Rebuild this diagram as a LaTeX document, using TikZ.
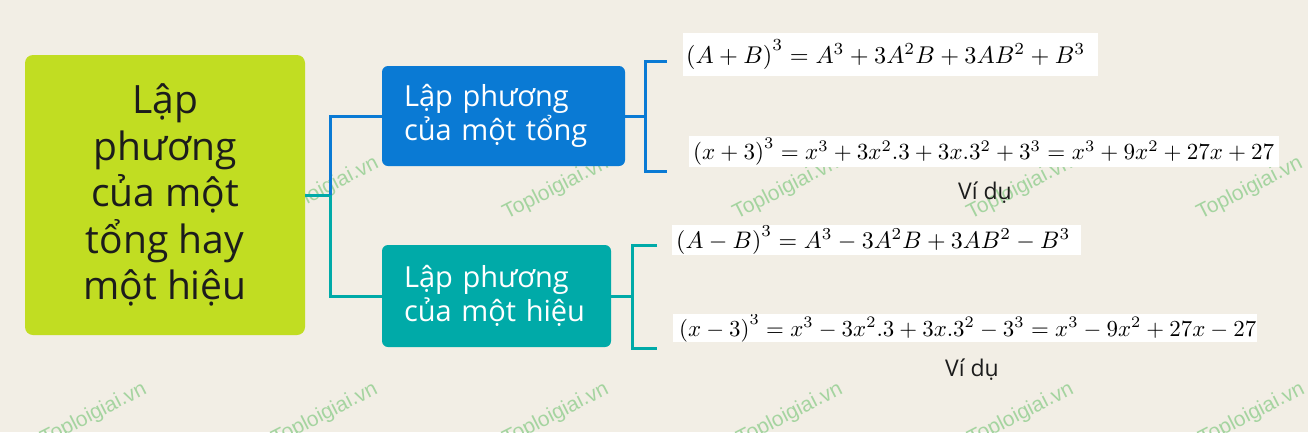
\documentclass[tikz,border=0pt]{standalone}
\usepackage[no-math]{fontspec}
\setmainfont{Open Sans}
\newfontfamily\wmfont{Liberation Sans}
\usepackage{graphicx}
\definecolor{bgC}{RGB}{242,238,229}
\definecolor{limeC}{RGB}{193,221,34}
\definecolor{blueC}{RGB}{10,122,212}
\definecolor{tealC}{RGB}{0,170,168}
\definecolor{wmC}{RGB}{165,212,160}
\definecolor{darkC}{RGB}{28,28,28}
\tikzset{
  mainbox/.style={fill=limeC, rounded corners=8pt, minimum width=280pt, minimum height=280pt,
    align=center, text=darkC, inner sep=0pt, font=\fontsize{39}{46.5}\selectfont},
  subbox/.style={rounded corners=6pt, text=white, align=left, inner xsep=22pt, inner ysep=0pt,
    font=\fontsize{29}{34}\selectfont},
  fbox/.style={fill=white, inner xsep=0pt, inner ysep=0pt, align=left},
  bline/.style={draw=blueC, line width=3pt},
  tline/.style={draw=tealC, line width=3pt},
  wm/.style={font=\wmfont\fontsize{21}{21}\selectfont, text=wmC, rotate=27, anchor=base east, inner sep=0pt},
  vidu/.style={font=\fontsize{23}{26}\selectfont, text=darkC, inner sep=0pt},
}
\begin{document}
\begin{tikzpicture}[x=1pt,y=-1pt]
\useasboundingbox (0,0) rectangle (1308,432);
\fill[bgC] (0,0) rectangle (1308,432);
% watermarks
\foreach \x [count=\i] in {380,610,840,1074,1304}
  \node[wm] (wt\i) at (\x,167) {Toploigiai.vn};
\foreach \x [count=\i] in {148,379,610,844,1075,1306}
  \node[wm] (wb\i) at (\x,393) {Toploigiai.vn};
% main boxes
\node[mainbox] (main) at (165,195) {Lập\\phương\\của một\\tổng hay\\một hiệu};
\node[subbox, fill=blueC, text width=199pt, minimum height=100pt] (sum) at (503.5,116)
  {\mbox{Lập phương}\\\mbox{của một tổng}};
\node[subbox, fill=tealC, text width=185pt, minimum height=102pt] (diff) at (496.5,296)
  {\mbox{Lập phương}\\\mbox{của một hiệu}};
% connectors
\draw[tline] (main.east) -- ++(25,0) coordinate (jm);
\draw[bline] (jm) |- (sum.west);
\draw[tline] (jm) |- (diff.west);
\draw[bline] (sum.east) -- ++(20,0) coordinate (jb);
\coordinate (bt) at (667,61);
\coordinate (bb) at (667,171);
\draw[bline] (bt) -| (jb) |- (bb);
\draw[tline] (diff.east) -- ++(21,0) coordinate (jt);
\coordinate (tt) at (657,245);
\coordinate (tb) at (657,348);
\draw[tline] (tt) -| (jt) |- (tb);
% formulas
\node[fbox, text width=415pt, minimum height=43pt, anchor=west] (f1) at (683,54.5)
  {\hspace*{3pt}\resizebox{399pt}{!}{$\left(A+B\right)^3=A^3+3A^2B+3AB^2+B^3$}};
\node[fbox, text width=590pt, minimum height=31pt, anchor=west] (f2) at (689,151.5)
  {\hspace*{4pt}\resizebox{581pt}{!}{$\left(x+3\right)^3=x^3+3x^2.3+3x.3^2+3^3=x^3+9x^2+27x+27$}};
\node[fbox, text width=409pt, minimum height=30pt, anchor=west] (f3) at (672,240)
  {\hspace*{4pt}\resizebox{394pt}{!}{$\left(A-B\right)^3=A^3-3A^2B+3AB^2-B^3$}};
\begin{scope}
\clip (673,314) rectangle (1257,342);
\node[fbox, text width=584pt, minimum height=28pt, anchor=west] (f4) at (673,328)
  {\hspace*{6pt}\raisebox{-4pt}{\resizebox{577pt}{!}{$\left(x-3\right)^3=x^3-3x^2.3+3x.3^2-3^3=x^3-9x^2+27x-27$}}};
\end{scope}
\node[vidu] (v1) at (985,193) {Ví dụ};
\node[vidu] (v2) at (972,370) {Ví dụ};
\end{tikzpicture}
\end{document}
